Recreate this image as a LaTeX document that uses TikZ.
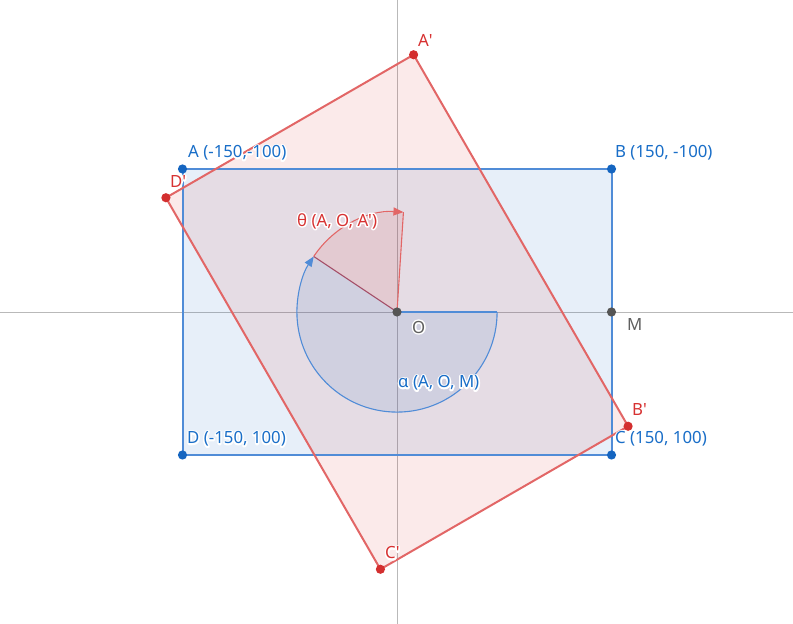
\documentclass[tikz,border=0pt]{standalone}
\usepackage{fontspec}
\setmainfont{Noto Sans}
\usetikzlibrary{arrows.meta}
\newcommand\halotext[1]{\leavevmode\rlap{\special{pdf:code 1 Tr 3 w 1 1 1 RG 1 j 1 J}#1\special{pdf:code 0 Tr}}#1}
\definecolor{bluept}{RGB}{21,101,192}
\definecolor{blueln}{RGB}{80,140,215}
\definecolor{bluetx}{RGB}{25,110,200}
\definecolor{redpt}{RGB}{211,47,47}
\definecolor{redln}{RGB}{226,102,102}
\definecolor{redtx}{RGB}{215,50,50}
\definecolor{axisc}{RGB}{185,185,185}
\definecolor{graypt}{RGB}{85,85,85}
\definecolor{graytx}{RGB}{95,95,95}
\definecolor{mauve}{RGB}{165,80,105}
\begin{document}
\begin{tikzpicture}[x=1pt,y=1pt,
  axisline/.style={draw=axisc,line width=0.8pt},
  rectfill/.style={fill=bluept,fill opacity=0.1},
  polyfill/.style={fill=redpt,fill opacity=0.1},
  rectline/.style={draw=blueln,line width=2pt,line join=round},
  polyline/.style={draw=redln,line width=2pt,line join=round},
  bluesec/.style={fill=bluept,fill opacity=0.1},
  redsec/.style={fill=redpt,fill opacity=0.1},
  bluearc/.style={draw=blueln,line width=1.1pt},
  redarc/.style={draw=redln,line width=1.1pt},
  tip/.style={-{Triangle[length=10pt,width=8pt]}},
  bdot/.style={fill=bluept},
  rdot/.style={fill=redpt},
  gdot/.style={fill=graypt},
  lbl/.style={anchor=west,inner sep=0pt,font=\fontsize{16.8}{19}\selectfont},
  blbl/.style={lbl,text=bluetx},
  rlbl/.style={lbl,text=redtx},
  glbl/.style={lbl,text=graytx}]
\useasboundingbox (0,0) rectangle (793,624);
\coordinate (axL) at (0,312);
\coordinate (axR) at (793,312);
\coordinate (axT) at (397,624);
\coordinate (axB) at (397,0);
\draw[axisline] (axL) -- (axR);
\draw[axisline] (axB) -- (axT);
\begin{scope}[shift={(397,312)},x=1.43pt,y=1.43pt]
  \coordinate (O) at (0,0);
  \coordinate (A) at (-150,100);
  \coordinate (B) at (150,100);
  \coordinate (C) at (150,-100);
  \coordinate (D) at (-150,-100);
  \coordinate (M) at (150,0);
  \path[rotate=-60] (-150,100) coordinate (A2)
                    (150,100) coordinate (B2)
                    (150,-100) coordinate (C2)
                    (-150,-100) coordinate (D2);
  \coordinate (R0) at (0:70);
  \coordinate (RA) at (146.31:70);
  \coordinate (RA2) at (86.31:70);
  % fills
  \fill[rectfill] (A) -- (B) -- (C) -- (D) -- cycle;
  \fill[polyfill] (A2) -- (B2) -- (C2) -- (D2) -- cycle;
  % sectors
  \fill[bluesec] (O) -- (R0) arc[start angle=0,end angle=-213.69,radius=70] -- cycle;
  \fill[redsec] (O) -- (RA) arc[start angle=146.31,end angle=86.31,radius=70] -- cycle;
  % outlines
  \draw[rectline] (A) -- (B) -- (C) -- (D) -- cycle;
  \draw[polyline] (A2) -- (B2) -- (C2) -- (D2) -- cycle;
  \draw[bluearc] (O) -- (R0);
  \draw[bluearc,tip] (R0) arc[start angle=0,end angle=-213.69,radius=70];
  \draw[redarc] (O) -- (RA2);
  \draw[draw=mauve,line width=1.1pt] (O) -- (RA);
  \draw[redarc,tip] (RA) arc[start angle=146.31,end angle=86.31,radius=70];
  % points
  \foreach \p in {A,B,C,D} \fill[bdot] (\p) circle[radius=4.6pt];
  \foreach \p in {A2,B2,C2,D2} \fill[rdot] (\p) circle[radius=4.6pt];
  \foreach \p in {O,M} \fill[gdot] (\p) circle[radius=4.6pt];
\end{scope}
% labels
\node[blbl] (lA) at (188,471) {\halotext{A (-150,-100)}};
\node[blbl] (lB) at (615,471) {\halotext{B (150, -100)}};
\node[blbl] (lC) at (615,185) {\halotext{C (150, 100)}};
\node[blbl] (lD) at (187,185) {\halotext{D (-150, 100)}};
\node[glbl] (lM) at (627,299) {\halotext{M}};
\node[glbl] (lO) at (412,297) {\halotext{O}};
\node[rlbl] (lA2) at (418,584) {\halotext{A\textquotesingle}};
\node[rlbl] (lB2) at (632,214) {\halotext{B\textquotesingle}};
\node[rlbl] (lC2) at (385,71) {\halotext{C\textquotesingle}};
\node[rlbl] (lD2) at (170,442) {\halotext{D\textquotesingle}};
\node[rlbl] (lth) at (297,403) {\halotext{θ (A, O, A\textquotesingle)}};
\node[blbl] (lal) at (398,241) {\halotext{α (A, O, M)}};
\end{tikzpicture}
\end{document}
